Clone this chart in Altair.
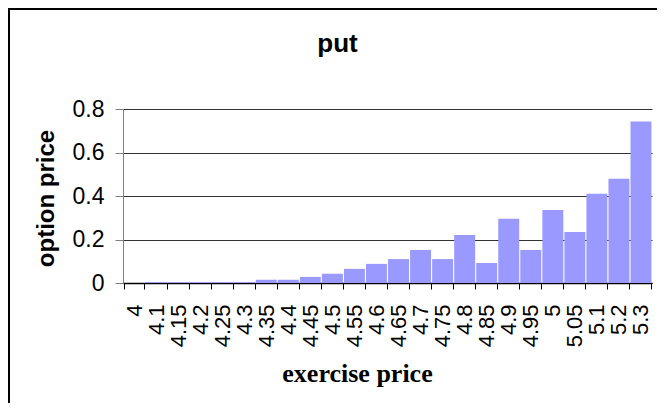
import altair as alt
import pandas as pd

categories = ["4", "4.1", "4.15", "4.2", "4.25", "4.3", "4.35", "4.4", "4.45", "4.5",
              "4.55", "4.6", "4.65", "4.7", "4.75", "4.8", "4.85", "4.9", "4.95", "5",
              "5.05", "5.1", "5.2", "5.3"]
values = [0, 0.004, 0.004, 0.004, 0.004, 0.004, 0.015, 0.015, 0.028, 0.043,
          0.065, 0.088, 0.11, 0.152, 0.11, 0.221, 0.092, 0.295, 0.152, 0.336,
          0.235, 0.41, 0.479, 0.742]
y_ticks = [0, 0.2, 0.4, 0.6, 0.8]

df = pd.DataFrame({"price": categories, "option": values})
frame_df = pd.DataFrame({"a": [0]})

bars = alt.Chart(df).mark_bar(color="#9999FF").encode(
    x=alt.X(
        "price:N",
        sort=categories,
        scale=alt.Scale(paddingInner=0.05, paddingOuter=0.025),
        axis=alt.Axis(
            title="exercise price",
            labelAngle=270,
            labelAlign="right",
            labelBaseline="middle",
            labelFont="Liberation Sans",
            labelFontSize=22,
            labelColor="black",
            labelPadding=15,
            tickBand="extent",
            tickSize=6,
            tickColor="black",
            domainColor="black",
            domainWidth=1.5,
            grid=False,
            titleFont="Liberation Serif",
            titleFontSize=26,
            titleFontWeight="bold",
            titleColor="black",
            titleX=234,
            titleY=98,
            titleAlign="center",
            titleBaseline="alphabetic",
        ),
    ),
    y=alt.Y(
        "option:Q",
        scale=alt.Scale(domain=[0, 0.8], nice=False),
        axis=alt.Axis(
            title="option price",
            values=y_ticks,
            labelExpr="datum.value == 0 ? '0' : format(datum.value, '.1f')",
            labelFont="Liberation Sans",
            labelFontSize=23,
            labelColor="black",
            labelPadding=11,
            tickSize=8,
            tickColor="#808080",
            domainColor="#808080",
            grid=True,
            gridColor="#333333",
            gridWidth=1,
            titleFont="Liberation Sans",
            titleFontSize=24,
            titleFontWeight="bold",
            titleColor="black",
            titleX=-70,
            titleY=89,
            titleAlign="center",
            titleBaseline="alphabetic",
        ),
    ),
)

border_left = alt.Chart(frame_df).mark_rule(color="black", strokeWidth=2).encode(
    x=alt.value(-114), y=alt.value(-101), y2=alt.value(300)
)
border_top = alt.Chart(frame_df).mark_rule(color="black", strokeWidth=2).encode(
    x=alt.value(-115), x2=alt.value(540), y=alt.value(-100)
)

chart = alt.layer(bars, border_left, border_top).properties(
    width=529,
    height=174,
    padding={"left": 115, "top": 101, "right": 5, "bottom": 120},
    autosize=alt.AutoSizeParams(type="none"),
    background="white",
    title=alt.TitleParams(
        "put",
        font="Liberation Sans",
        fontSize=26,
        fontWeight="bold",
        color="black",
        anchor="middle",
        baseline="alphabetic",
        dx=-50,
        dy=71,
        offset=0,
    ),
).configure_view(stroke=None)

chart.save("out.html", embed_options={"renderer": "svg", "actions": False})
